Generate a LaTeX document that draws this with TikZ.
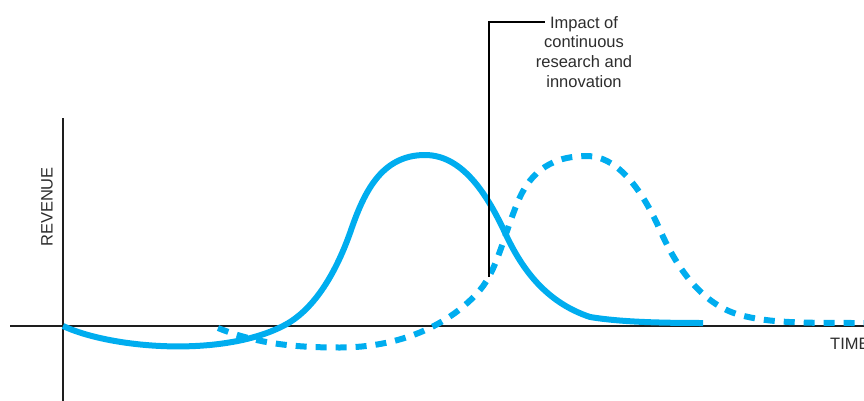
\documentclass[tikz,border=0pt]{standalone}
\usepackage{fontspec}
\setmainfont{Liberation Sans}
\definecolor{cyanline}{RGB}{0,173,239}
\definecolor{axisgray}{RGB}{30,30,30}
\definecolor{textgray}{RGB}{45,45,45}
\begin{document}
\begin{tikzpicture}[x=1pt,y=-1pt,
  axisline/.style={line width=2.6pt, axisgray},
  curve/.style={line width=6pt, cyanline, line join=round},
  dashcurve/.style={curve, dash pattern=on 11pt off 9pt},
  callout/.style={line width=1.3pt, black},
  lbl/.style={font=\fontsize{16.5}{19.8}\selectfont, text=textgray, inner sep=0pt}]
\useasboundingbox (0,0) rectangle (864,401);
\clip (0,0) rectangle (864,401);
% axes
\coordinate (ytop) at (63,118);
\coordinate (ybot) at (63,401);
\coordinate (xleft) at (10,326);
\coordinate (xright) at (864,326);
\draw[axisline] (ybot) -- (ytop);
\draw[axisline] (xleft) -- (xright);
% labels
\node[lbl, rotate=90] (rev) at (47,207) {REVENUE};
\node[lbl, anchor=west] (time) at (830,343.5) {TIME};
\node[lbl, align=center] (impact) at (584,52) {Impact of\\continuous\\research and\\innovation};
% dashed curve (next generation)
\draw[dashcurve] (218,328) .. controls (260,345) and (300,347.5) .. (340,347.5)
  .. controls (400,347.5) and (450,325) .. (480,290)
  .. controls (498,269) and (505,230) .. (520,197)
  .. controls (535,165) and (560,156) .. (587,156)
  .. controls (615,156) and (640,185) .. (660,230)
  .. controls (675,264) and (700,304) .. (740,315)
  .. controls (770,323) and (800,323) .. (864,323);
% solid curve (current product)
\draw[curve] (63,326) .. controls (110,348) and (220,358) .. (283,326)
  .. controls (313,311) and (335,275) .. (350,233)
  .. controls (363,195) and (380,155) .. (425,155)
  .. controls (465,155) and (490,200) .. (507,237)
  .. controls (522,268) and (545,302) .. (590,317)
  .. controls (620,322) and (660,323) .. (703,323);
% callout
\coordinate (tip) at (489,277);
\coordinate (hook) at (545,22);
\draw[callout] (tip) |- (hook);
\end{tikzpicture}
\end{document}
